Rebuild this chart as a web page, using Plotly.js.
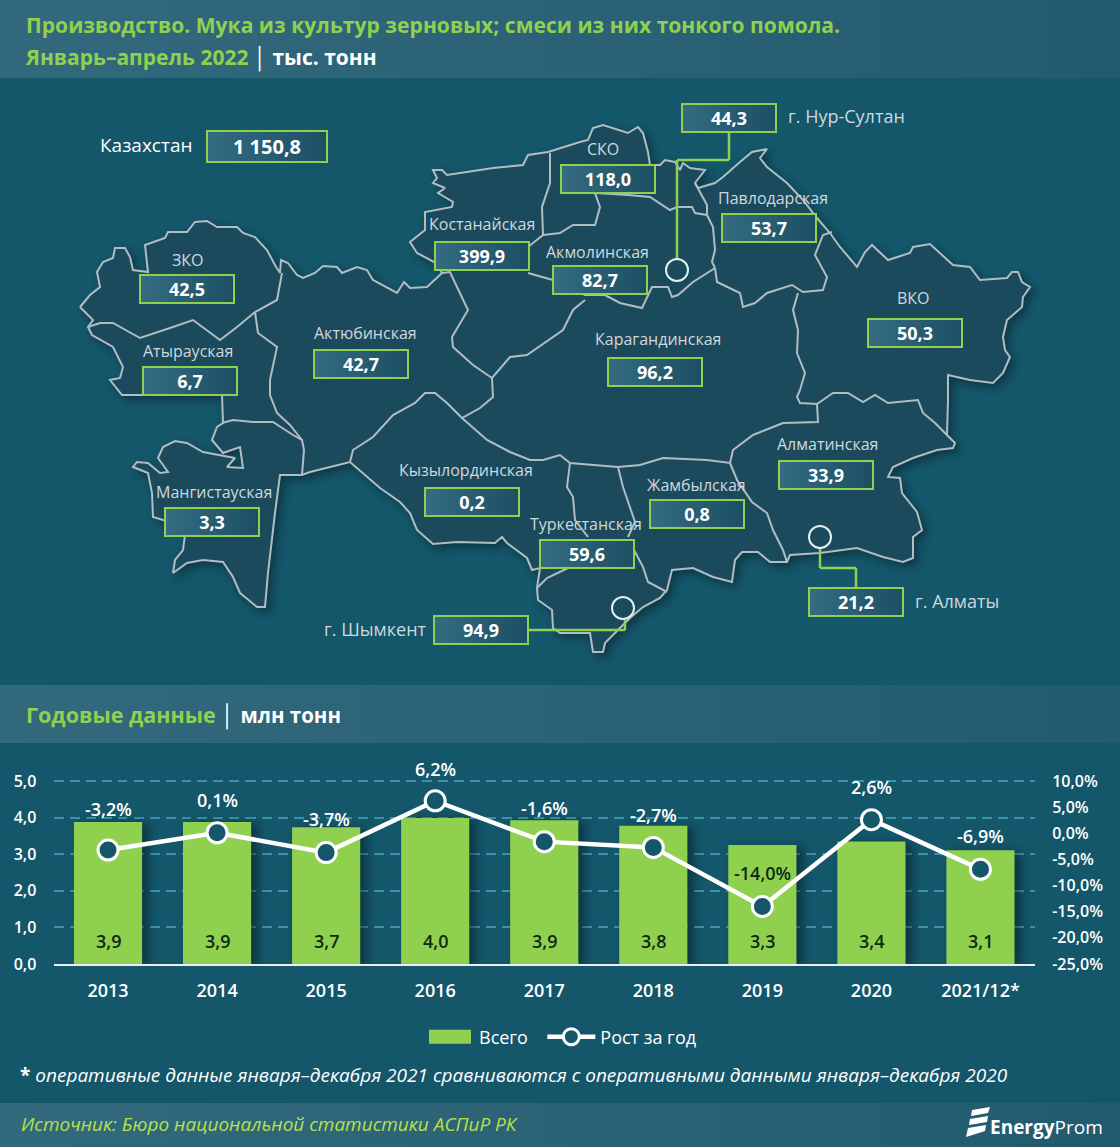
<!DOCTYPE html>
<html lang="ru"><head><meta charset="utf-8">
<script src="https://cdn.plot.ly/plotly-3.0.1.min.js"></script>
<style>
html,body{margin:0;padding:0;width:1120px;height:1147px;overflow:hidden}
body{background:
 linear-gradient(90deg,#33697d,#235b6e) 0 0/100% 78px no-repeat,
 linear-gradient(90deg,#33697d,#235b6e) 0 685px/100% 58px no-repeat,
 linear-gradient(90deg,#33697d,#235b6e) 0 1103px/100% 44px no-repeat,
 #14566a}
#plot{width:1120px;height:1147px}
.subplot.x2y3 .scatterlayer{filter:drop-shadow(4px 4px 4px rgba(0,0,0,.35))}
.subplot.xy .barlayer{filter:drop-shadow(6px 2px 5px rgba(0,0,0,.4))}
.subplot.xy2 .scatterlayer{filter:drop-shadow(2px 2px 2px rgba(0,0,0,.4))}
</style></head><body><div id="plot"></div>
<script>
// ---- yearly data ----
const years=['2013','2014','2015','2016','2017','2018','2019','2020','2021/12*'];
const totalMln=[3.88,3.88,3.74,3.99,3.93,3.78,3.25,3.35,3.11];
const growthPct=[-3.2,0.1,-3.7,6.2,-1.6,-2.7,-14.0,2.6,-6.9];
const leftTicks=[0,1,2,3,4,5];
const rightTicks=[-25,-20,-15,-10,-5,0,5,10];
// ---- regional data ----
const regions=['ЗКО','Атырауская','Актюбинская','Костанайская','СКО','Акмолинская','Павлодарская','ВКО','Карагандинская','Мангистауская','Кызылординская','Туркестанская','Жамбылская','Алматинская'];
const regionValues=['42,5','6,7','42,7','399,9','118,0','82,7','53,7','50,3','96,2','3,3','0,2','59,6','0,8','33,9'];
const cities=['г. Нур-Султан','г. Алматы','г. Шымкент'];
const cityValues=['44,3','21,2','94,9'];
const countryName='Казахстан', countryValue='1 150,8';

// ---- map geometry (screen-space outline of the country and inner borders) ----
const outline=[[80,307],[90,295],[100,287],[97,272],[103,262],[113,258],[115,248],[125,248],[130,257],[133,270],[148,272],[145,245],[165,238],[168,232],[187,232],[195,222],[207,221],[217,227],[237,227],[243,233],[255,237],[267,250],[275,265],[280,273],[281,260],[288,263],[297,275],[303,278],[315,273],[323,266],[337,267],[342,273],[357,267],[367,270],[373,280],[397,293],[404,282],[410,288],[427,287],[442,273],[436,263],[427,258],[417,253],[410,242],[425,230],[425,212],[452,207],[453,202],[438,193],[445,188],[433,183],[437,178],[433,170],[442,170],[447,175],[493,168],[523,165],[528,155],[548,152],[580,142],[588,140],[593,128],[603,125],[628,133],[638,127],[643,133],[648,152],[650,165],[660,165],[665,160],[675,162],[680,170],[683,163],[690,168],[705,170],[695,183],[698,188],[715,183],[723,177],[740,162],[752,152],[767,149],[760,158],[767,167],[787,183],[803,200],[817,218],[830,233],[840,247],[857,267],[865,252],[872,245],[888,260],[910,253],[913,247],[930,244],[940,253],[953,265],[970,267],[980,280],[1007,278],[1012,272],[1018,272],[1022,282],[1030,287],[1023,297],[1022,307],[1007,320],[1003,337],[1005,350],[1010,357],[1003,373],[993,383],[970,380],[948,375],[948,400],[947,435],[955,443],[953,448],[937,450],[913,458],[893,467],[888,477],[900,478],[902,493],[917,512],[922,530],[913,537],[913,558],[903,562],[883,557],[857,548],[820,553],[790,555],[787,562],[770,562],[758,552],[742,552],[735,560],[732,582],[713,577],[693,568],[672,570],[667,590],[660,598],[643,607],[630,618],[605,643],[603,652],[593,652],[590,633],[560,633],[553,628],[552,610],[538,600],[537,588],[540,568],[532,570],[527,558],[507,543],[502,537],[495,543],[457,542],[433,544],[417,530],[410,513],[400,502],[380,488],[350,462],[310,472],[302,475],[280,475],[275,513],[268,573],[265,607],[257,607],[240,593],[233,577],[223,562],[203,560],[187,563],[173,573],[175,560],[183,550],[185,535],[185,522],[163,520],[153,517],[152,493],[148,473],[133,467],[137,462],[148,463],[160,473],[168,472],[158,458],[163,447],[175,441],[187,443],[203,452],[235,458],[227,467],[243,468],[240,447],[223,453],[212,440],[217,427],[223,423],[222,395],[122,395],[110,380],[120,378],[123,367],[113,347],[92,335],[88,327],[93,320],[80,307]];
const innerBorders=[
 [[88,327],[100,323],[113,323],[140,338],[170,328],[193,320],[220,340],[237,327],[255,312],[277,300],[282,273]],
 [[255,312],[258,333],[277,347],[270,380],[270,395],[277,413],[290,425],[302,440]],
 [[222,423],[233,420],[253,422],[273,422],[293,435],[302,440],[304,450],[302,475]],
 [[350,462],[353,450],[373,437],[393,415],[415,403],[425,393],[435,393],[447,403],[462,418],[480,408],[493,397],[492,378]],
 [[442,273],[450,272],[457,287],[468,310],[452,337],[453,347],[473,365],[492,378],[510,357],[527,355],[563,330],[573,310],[585,300]],
 [[528,247],[543,235],[542,207],[550,183],[550,153]],
 [[528,273],[553,280],[585,295],[605,295],[620,303],[642,308],[652,287],[668,287],[672,297],[678,295],[693,282],[715,268]],
 [[543,235],[560,233],[573,225],[595,225],[600,207],[595,193],[628,195],[650,197],[670,210],[677,207],[692,207],[695,213],[707,215],[713,227],[715,250],[712,262],[715,268]],
 [[695,183],[707,205],[707,215]],
 [[715,268],[717,282],[740,293],[743,307],[755,303],[767,293],[792,285],[803,292],[823,290],[827,277],[815,255],[823,235],[832,232]],
 [[798,293],[793,310],[798,330],[797,353],[805,373],[800,390],[797,397],[800,403],[817,404],[833,393],[848,393],[863,402],[875,395],[888,403],[918,400],[923,413],[935,423],[947,435]],
 [[817,404],[818,422],[783,423],[753,435],[733,450],[730,463],[707,460],[663,458],[640,465],[618,467],[570,463],[560,455],[543,460],[530,460],[510,452],[487,440],[462,418]],
 [[570,463],[567,487],[573,497],[575,520],[588,537]],
 [[618,467],[623,487],[635,522],[628,537]],
 [[634,550],[643,567],[648,582],[667,592]],
 [[568,568],[547,578],[537,588]],
 [[730,463],[737,480],[752,502],[767,513],[773,530],[783,550],[787,562]]
];
const flat=(pts,i)=>pts.map(p=>p[i]);
const joined=(i)=>innerBorders.flatMap(l=>[...l.map(p=>p[i]),null]);

// ---- positions of map texts ----
const labelPos=[[188,260],[188,351],[365,333],[482,224],[603,149],[597,252],[773,198],[913,298],[658,339],[214,492],[466,470],[586,524],[696,485],[827,444]];
const boxPos=[[187,289],[190,381],[361,364],[482,256],[608,179],[600,280],[769,228],[915,333],[655,372],[212,522],[472,502],[587,554],[697,514],[826,475]];
const cityBox=[[729,118],[856,602],[481,630]];
const cityLabel=[[786,116,'left'],[913,601,'left'],[429,629,'right']];

const GREEN='#8fd14f', WHITE='#ffffff', MAPTXT='#cfd8dc', FONT='"Open Sans",sans-serif';
const fmt=v=>v.toFixed(1).replace('.',',');
const pct=v=>fmt(v)+'%';

const traces=[
 {type:'bar',name:'Всего\u00a0\u00a0',x:years,y:totalMln,marker:{color:'#8fd14f'},hoverinfo:'x+y'},
 {type:'scatter',name:'Рост за год',x:years,y:growthPct,yaxis:'y2',mode:'lines+markers',
  line:{color:WHITE,width:4.5},marker:{size:20,color:'#14566a',line:{color:WHITE,width:3}}},
 {type:'scatter',xaxis:'x2',yaxis:'y3',x:flat(outline,0),y:flat(outline,1),mode:'lines',fill:'toself',
  fillcolor:'#1c4a5d',line:{color:'#b0bdc2',width:2},showlegend:false,hoverinfo:'skip'},
 {type:'scatter',xaxis:'x2',yaxis:'y3',x:joined(0),y:joined(1),mode:'lines',
  line:{color:'#b0bdc2',width:2},showlegend:false,hoverinfo:'skip',connectgaps:false}
];

const pix={xref:'x2',yref:'y3',showarrow:false};
const annotations=[];
const valueBox=(x,y,t,w,h,sz)=>({...pix,x,y,text:'<b>'+t+'</b>',width:w,height:h,
  bgcolor:'#2a6074',bordercolor:GREEN,borderwidth:2,font:{family:FONT,size:sz,color:WHITE}});
regions.forEach((r,i)=>{
 annotations.push({...pix,x:labelPos[i][0],y:labelPos[i][1],text:r,font:{family:FONT,size:16,color:MAPTXT}});
 annotations.push(valueBox(boxPos[i][0],boxPos[i][1],regionValues[i],90,24,18));
});
cities.forEach((c,i)=>{
 annotations.push(valueBox(cityBox[i][0],cityBox[i][1],cityValues[i],90,24,18));
 annotations.push({...pix,x:cityLabel[i][0],y:cityLabel[i][1],xanchor:cityLabel[i][2],text:c,font:{family:FONT,size:18,color:MAPTXT}});
});
annotations.push({...pix,x:146,y:145,text:countryName,font:{family:FONT,size:19,color:WHITE}});
annotations.push(valueBox(267,146,countryValue,116,27,20));

// chart value labels
const lift=[41,33,34,32,34,32,33,33,33];
years.forEach((yr,i)=>{
 annotations.push({xref:'x',yref:'y',x:i,y:0.63,text:fmt(totalMln[i]),showarrow:false,font:{family:FONT,size:18,color:'#0d2a12',weight:600}});
 annotations.push({xref:'x',yref:'y2',x:i,y:growthPct[i],yshift:lift[i],showarrow:false,text:pct(growthPct[i]),
   font:{family:FONT,size:18,weight:600,color:yr==='2019'?'#0d2a12':WHITE}});
});
annotations.push({...pix,x:23,y:57,xanchor:'left',text:'<b><span style="color:#8fd14f">Январь–апрель 2022</span></b> │ <b>тыс. тонн</b>',font:{family:FONT,size:21,color:WHITE}});
annotations.push({...pix,x:24,y:715,xanchor:'left',text:'<b><span style="color:#8fd14f">Годовые данные</span></b> │ <b><span style="font-size:20.5px">млн тонн</span></b>',font:{family:FONT,size:21.5,color:WHITE}});
annotations.push({...pix,x:18,y:1075,xanchor:'left',text:'<b>*</b> <i>оперативные данные января–декабря 2021 сравниваются с оперативными данными января–декабря 2020</i>',font:{family:FONT,size:19,color:WHITE}});
annotations.push({...pix,x:19,y:1124,xanchor:'left',text:'<i>Источник: Бюро национальной статистики АСПиР РК</i>',font:{family:FONT,size:19,color:'#b6e04e'}});
annotations.push({...pix,x:988,y:1127,xanchor:'left',text:'<b>Energy</b>Prom',font:{family:FONT,size:19,color:WHITE}});

const ln=(x0,y0,x1,y1)=>({type:'line',xref:'x2',yref:'y3',x0,y0,x1,y1,line:{color:GREEN,width:2.5}});
const ring=(cx,cy,r)=>({type:'circle',xref:'x2',yref:'y3',x0:cx-r,x1:cx+r,y0:cy-r,y1:cy+r,line:{color:'#e6eef0',width:2}});
const shapes=[
 ln(729,132,729,160),ln(729,160,677,160),ln(677,160,677,259),ring(677,270,11),
 ln(820,548,820,568),ln(820,568,856,568),ln(856,568,856,589),ring(820,537,11),
 ln(528,630,625,630),ln(625,630,625,620),ring(623,608,11),
 {type:'path',xref:'x2',yref:'y3',path:'M972,1110 L990,1107 L988,1113 L971,1116 Z M970,1119 L988,1116 L987,1122 L969,1125 Z M968,1128 L986,1125 L985,1131 L966,1137 Z',fillcolor:WHITE,line:{width:0}}
];
const tickFont={family:FONT,size:16,color:WHITE,weight:600};

const layout={
 width:1120,height:1147,margin:{l:0,r:0,t:0,b:0,pad:0},
 paper_bgcolor:'rgba(0,0,0,0)',plot_bgcolor:'rgba(0,0,0,0)',
 separators:', ',font:{family:FONT,color:WHITE,size:16},
 bargap:0.375,
 title:{text:'<b>Производство. Мука из культур зерновых; смеси из них тонкого помола.</b>',
  x:26/1120,xanchor:'left',xref:'paper',y:1-26/1147,yanchor:'middle',yref:'paper',font:{family:FONT,size:21.1,color:GREEN}},
 xaxis:{domain:[53.5/1120,1035/1120],type:'category',categoryorder:'array',categoryarray:years,range:[-0.5,8.5],
  showgrid:false,zeroline:false,showline:true,linecolor:'#e8f0f2',linewidth:2,
  ticks:'outside',ticklen:9,tickcolor:'rgba(0,0,0,0)',tickfont:{family:FONT,size:18,color:WHITE,weight:600},fixedrange:true},
 yaxis:{domain:[(1147-964)/1147,(1147-779)/1147],range:[0,5.055],tickvals:leftTicks,ticktext:leftTicks.map(fmt),
  showgrid:true,gridcolor:'#3a93ab',griddash:'10px,6px',gridwidth:1.5,zeroline:false,
  ticks:'outside',ticklen:13,tickcolor:'rgba(0,0,0,0)',tickfont:tickFont,fixedrange:true},
 yaxis2:{overlaying:'y',side:'right',range:[-25,10.38],tickvals:rightTicks,ticktext:rightTicks.map(pct),
  showgrid:false,zeroline:false,anchor:'x',
  ticks:'outside',ticklen:13,tickcolor:'rgba(0,0,0,0)',tickfont:tickFont,fixedrange:true},
 xaxis2:{domain:[0,1],range:[0,1120],visible:false,anchor:'y3',fixedrange:true},
 yaxis3:{domain:[0,1],range:[1147,0],visible:false,anchor:'x2',fixedrange:true},
 showlegend:true,
 legend:{orientation:'h',x:421/1120,y:(1147-1037)/1147,xanchor:'left',yanchor:'middle',bgcolor:'rgba(0,0,0,0)',
  font:{family:FONT,size:18,color:WHITE},itemwidth:48,traceorder:'normal'},
 annotations,shapes
};
Plotly.newPlot('plot',traces,layout,{displayModeBar:false,responsive:false}).then(gd=>{
 const NS='http://www.w3.org/2000/svg', svg=gd.querySelector('svg.main-svg');
 const defs=document.createElementNS(NS,'defs');
 defs.innerHTML='<linearGradient id="boxGrad" x1="0" x2="1" y1="0" y2="0"><stop offset="0" stop-color="#356c81"/><stop offset="1" stop-color="#1c4f63"/></linearGradient>';
 svg.appendChild(defs);
 gd.querySelectorAll('.annotation rect.bg').forEach(r=>{ if(r.style.fillOpacity!=='0' && r.style.fill && r.style.fill!=='rgba(0, 0, 0, 0)') r.style.fill='url(#boxGrad)'; });
 const sw=gd.querySelector('.legend .traces .legendpoints path');
 if(sw) sw.setAttribute('d','M21,7H-21V-7H21Z');
});
</script></body></html>
